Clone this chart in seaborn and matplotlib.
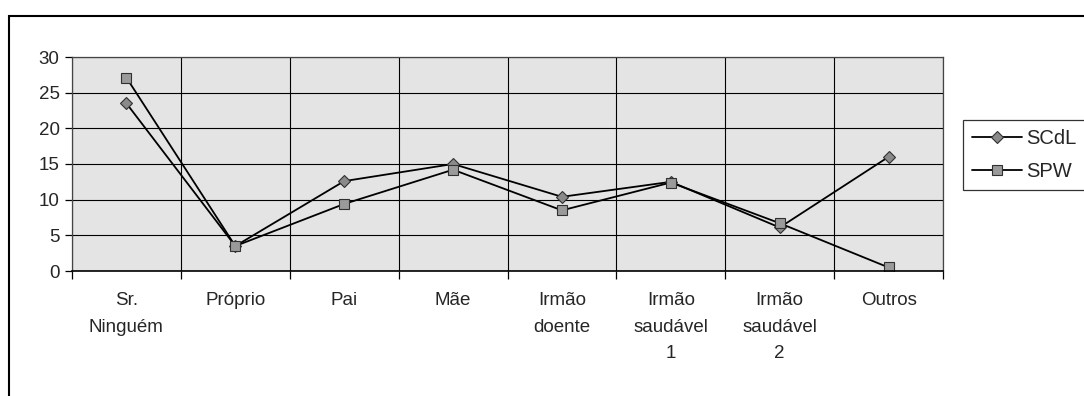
import matplotlib
matplotlib.use("Agg")
import matplotlib.pyplot as plt
import seaborn as sns
import pandas as pd
from matplotlib.patches import Rectangle
from matplotlib.ticker import FixedLocator

categories = ["Sr.\nNinguém", "Próprio", "Pai", "Mãe", "Irmão\ndoente",
              "Irmão\nsaudável\n1", "Irmão\nsaudável\n2", "Outros"]
scdl = [23.5, 3.5, 12.6, 15.0, 10.4, 12.5, 6.1, 16.0]
spw = [27.1, 3.5, 9.4, 14.2, 8.5, 12.4, 6.7, 0.5]
yticks = [0, 5, 10, 15, 20, 25, 30]

sns.set_theme(style="white")
plt.rcParams['font.family'] = ['Liberation Sans', 'DejaVu Sans']

df = pd.DataFrame({
    "pos": list(range(len(categories))) * 2,
    "val": scdl + spw,
    "series": ["SCdL"] * len(scdl) + ["SPW"] * len(spw),
})

fig = plt.figure(figsize=(10.84, 3.96), dpi=100)
ax = fig.add_axes([72 / 1084, 1 - 271 / 396, (943 - 72) / 1084, (271 - 57) / 396])
ax.set_facecolor("#e4e4e4")

styles = {"SCdL": dict(marker="D", markersize=6.5, markerfacecolor="#8a8a8a"),
          "SPW": dict(marker="s", markersize=7.5, markerfacecolor="#9a9a9a")}
for name, st in styles.items():
    sns.lineplot(data=df[df.series == name], x="pos", y="val", ax=ax, color="black",
                 linewidth=1.3, markeredgecolor="#303030", markeredgewidth=0.8,
                 label=name, **st)

ax.set_xlim(-0.5, len(categories) - 0.5)
ax.set_ylim(0, 30)
ax.set_yticks(yticks)
ax.set_xticks(range(len(categories)))
ax.set_xticklabels(categories, fontsize=13.5, linespacing=1.75, va="top")
ax.xaxis.set_minor_locator(FixedLocator([i - 0.5 for i in range(len(categories) + 1)]))
ax.tick_params(axis="x", which="major", length=0, pad=15)
ax.tick_params(axis="x", which="minor", length=6, width=0.9, color="black", direction="out", bottom=True)
ax.tick_params(axis="y", length=5, width=0.9, color="black", direction="out", left=True, labelsize=13.5, pad=4)
ax.grid(True, axis="y", which="major", color="black", linewidth=0.8)
ax.grid(True, axis="x", which="minor", color="black", linewidth=0.8)
ax.set_axisbelow(True)
ax.set_xlabel("")
ax.set_ylabel("")
for s in ax.spines.values():
    s.set_color("#444444")
    s.set_linewidth(0.9)
ax.spines["bottom"].set_color("black")
ax.spines["bottom"].set_linewidth(1.2)

leg = ax.legend(loc="upper left", bbox_to_anchor=(963 / 1084, 1 - 120 / 396),
                bbox_transform=fig.transFigure, frameon=True, fancybox=False,
                edgecolor="black", fontsize=14.5, handlelength=2.5, borderaxespad=0,
                borderpad=0.45, labelspacing=0.7, handletextpad=0.2)
leg.get_frame().set_linewidth(0.9)

fig.patches.append(Rectangle((9 / 1084, -0.05), 1.2, 1 - 16 / 396 + 0.05,
                             transform=fig.transFigure, fill=False,
                             edgecolor="black", linewidth=1.5))

fig.savefig("out.png", dpi=100)
